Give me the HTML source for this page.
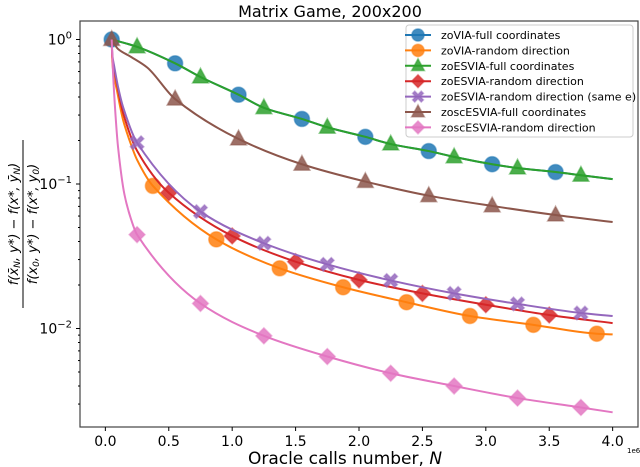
<!DOCTYPE html>
<html><head><meta charset="utf-8"><style>
body{margin:0;background:#fff}
svg{display:block;font-family:"DejaVu Sans","Liberation Sans",sans-serif}
</style></head><body>
<svg id="chart" width="640" height="467" viewBox="0 0 640 467" xmlns="http://www.w3.org/2000/svg">
<text x="330" y="17" font-size="16" text-anchor="middle">Matrix Game, 200x200</text>
<g id="plot"></g>
<text x="345" y="464" font-size="17" text-anchor="middle">Oracle calls number, <tspan font-style="italic">N</tspan></text>
<text x="627" y="453" font-size="7">1e6</text>
<g transform="translate(22,224) rotate(-90)" font-size="13" text-anchor="middle" font-style="italic">
<text y="-4">f(x̄<tspan font-size="9" dy="2">N</tspan><tspan dy="-2">, y*) − f(x*, ȳ</tspan><tspan font-size="9" dy="2">N</tspan><tspan dy="-2">)</tspan></text>
<line x1="-84" x2="84" y1="1" y2="1" stroke="#000" stroke-width="1"/>
<text y="15">f(x<tspan font-size="9" dy="2">0</tspan><tspan dy="-2">, y*) − f(x*, y</tspan><tspan font-size="9" dy="2">0</tspan><tspan dy="-2">)</tspan></text>
</g>
</svg>
<script>
const xTicks=[0,0.5,1,1.5,2,2.5,3,3.5,4];
const xTickLabels=["0.0","0.5","1.0","1.5","2.0","2.5","3.0","3.5","4.0"];
const yTicks=[0,-1,-2];
const yTickLabels=["0","−1","−2"];
const seriesNames=["zoVIA-full coordinates","zoVIA-random direction","zoESVIA-full coordinates","zoESVIA-random direction","zoESVIA-random direction (same e)","zoscESVIA-full coordinates","zoscESVIA-random direction"];
const colors=["#1f77b4","#ff7f0e","#2ca02c","#d62728","#9467bd","#8c564b","#e377c2"];
const fullN=[0.05,0.25,0.55,0.75,1.05,1.25,1.55,1.75,2.05,2.25,2.55,2.75,3.05,3.25,3.55,3.75,4.0];
const fullV=[1.0,0.89,0.684,0.55,0.415,0.337,0.282,0.247,0.212,0.189,0.169,0.154,0.137,0.129,0.121,0.115,0.108];
const brownN=[0.05,0.1,0.2,0.33,0.55,1.05,1.55,2.05,2.55,3.05,3.55,4.0];
const brownV=[1.0,0.86,0.76,0.64,0.387,0.205,0.137,0.104,0.083,0.0705,0.061,0.0546];
const orangeN=[0.05,0.055,0.065,0.09,0.14,0.2,0.25,0.375,0.875,1.375,1.875,2.375,2.875,3.375,3.875,4.0];
const orangeV=[1.0,0.7,0.58,0.45,0.277,0.19,0.147,0.097,0.0414,0.0261,0.0193,0.0152,0.0122,0.0106,0.0092,0.0091];
const redN=[0.05,0.055,0.07,0.1,0.14,0.25,0.5,1.0,1.5,2.0,2.5,3.0,3.5,4.0];
const redV=[1.0,0.75,0.62,0.45,0.31,0.17,0.087,0.0437,0.029,0.0217,0.0175,0.0146,0.0124,0.0109];
const purpleN=[0.05,0.055,0.07,0.1,0.14,0.25,0.75,1.25,1.75,2.25,2.75,3.25,3.75,4.0];
const purpleV=[1.0,0.78,0.65,0.47,0.34,0.193,0.0644,0.0389,0.0278,0.0215,0.0175,0.0148,0.0128,0.0122];
const pinkN=[0.05,0.06,0.08,0.1,0.15,0.2,0.25,0.75,1.25,1.75,2.25,2.75,3.25,3.75,4.0];
const pinkV=[1.0,0.6,0.3,0.18,0.085,0.058,0.0446,0.0149,0.0089,0.0064,0.0049,0.004,0.0033,0.00284,0.00263];
const markersBlue=[0.05,0.55,1.05,1.55,2.05,2.55,3.05,3.55];
const markersOrange=[0.375,0.875,1.375,1.875,2.375,2.875,3.375,3.875];
const markersGreen=[0.25,0.75,1.25,1.75,2.25,2.75,3.25,3.75];
const markersRed=[0.5,1.0,1.5,2.0,2.5,3.0,3.5];
const markersPurple=[0.25,0.75,1.25,1.75,2.25,2.75,3.25,3.75];
const markersBrown=[0.05,0.55,1.05,1.55,2.05,2.55,3.05,3.55];
const markersPink=[0.25,0.75,1.25,1.75,2.25,2.75,3.25,3.75];

const L=80,R=638,T=21,B=427;
const xMin=-0.2,xMax=4.2;
const y0px=39.5,decade=144.5;
const sx=n=>L+(n-xMin)/(xMax-xMin)*(R-L);
const sy=v=>y0px-Math.log10(v)*decade;
const NS="http://www.w3.org/2000/svg";
const plot=document.getElementById('plot');
function mk(tag,attrs,parent){const e=document.createElementNS(NS,tag);for(const k in attrs)e.setAttribute(k,attrs[k]);(parent||plot).appendChild(e);return e;}
function monoPath(xs,ys){
 const n=xs.length,d=[],m=[];
 for(let i=0;i<n-1;i++)d.push((ys[i+1]-ys[i])/(xs[i+1]-xs[i]));
 m[0]=d[0];m[n-1]=d[n-2];
 for(let i=1;i<n-1;i++){m[i]=(d[i-1]*d[i]<=0)?0:(2/(1/d[i-1]+1/d[i]));}
 let p='M'+xs[0].toFixed(2)+','+ys[0].toFixed(2);
 for(let i=0;i<n-1;i++){const h=xs[i+1]-xs[i];
  p+=' C'+(xs[i]+h/3).toFixed(2)+','+(ys[i]+m[i]*h/3).toFixed(2)+' '+(xs[i+1]-h/3).toFixed(2)+','+(ys[i+1]-m[i+1]*h/3).toFixed(2)+' '+xs[i+1].toFixed(2)+','+ys[i+1].toFixed(2);}
 return p;
}
function interpPx(xs,ys,x){
 // evaluate monotone cubic at x
 const n=xs.length,d=[],m=[];
 for(let i=0;i<n-1;i++)d.push((ys[i+1]-ys[i])/(xs[i+1]-xs[i]));
 m[0]=d[0];m[n-1]=d[n-2];
 for(let i=1;i<n-1;i++){m[i]=(d[i-1]*d[i]<=0)?0:(2/(1/d[i-1]+1/d[i]));}
 for(let i=0;i<n-1;i++){if(x>=xs[i]-1e-9&&x<=xs[i+1]+1e-9){const h=xs[i+1]-xs[i],t=(x-xs[i])/h;
  const h00=2*t*t*t-3*t*t+1,h10=t*t*t-2*t*t+t,h01=-2*t*t*t+3*t*t,h11=t*t*t-t*t;
  return h00*ys[i]+h10*h*m[i]+h01*ys[i+1]+h11*h*m[i+1];}}
 return ys[n-1];
}

const frame=mk('rect',{x:L,y:T,width:R-L,height:B-T,fill:'none',stroke:'#444','stroke-width':1.2});


xTicks.forEach((t,i)=>{
 const x=sx(t);
 const tk=mk('line',{x1:x,x2:x,y1:B,y2:B+4,stroke:'#000'});
 
 
 const lb=mk('text',{x:x,y:B+19,'font-size':14,'text-anchor':'middle'});
 lb.textContent=xTickLabels[i];
 
 
});
yTicks.forEach((e,i)=>{
 const y=sy(Math.pow(10,e));
 const tk=mk('line',{x1:L-4,x2:L,y1:y,y2:y,stroke:'#000'});
 
 
 const lb=mk('text',{x:L-8,y:y+5,'font-size':14,'text-anchor':'end'});
 lb.innerHTML='10<tspan dy="-6" font-size="10">'+yTickLabels[i]+'</tspan>';
 
 
});
[0.1,0.01,0.001].forEach(d=>{for(let k=2;k<=9;k++){const v=d*k;const y=sy(v);if(y>=T&&y<=B){const m=mk('line',{x1:L-2,x2:L,y1:y,y2:y,stroke:'#000'});
 
 }}});

const series=[
 {N:fullN,V:fullV,m:markersBlue,c:0,shape:'circle'},
 {N:orangeN,V:orangeV,m:markersOrange,c:1,shape:'circle'},
 {N:fullN,V:fullV,m:markersGreen,c:2,shape:'tri'},
 {N:redN,V:redV,m:markersRed,c:3,shape:'diamond'},
 {N:purpleN,V:purpleV,m:markersPurple,c:4,shape:'x'},
 {N:brownN,V:brownV,m:markersBrown,c:5,shape:'tri'},
 {N:pinkN,V:pinkV,m:markersPink,c:6,shape:'diamond'}
];
function marker(shape,x,y,col,parent,s){
 s=s||8;let e;
 if(shape==='circle')e=mk('circle',{cx:x,cy:y,r:s*0.95},parent);
 else if(shape==='tri')e=mk('polygon',{points:`${x},${y-s*1.1} ${x+s},${y+s*0.75} ${x-s},${y+s*0.75}`},parent);
 else if(shape==='diamond')e=mk('polygon',{points:`${x},${y-s} ${x+s},${y} ${x},${y+s} ${x-s},${y}`},parent);
 else {const a=s*0.85,w=s*0.35;
  e=mk('path',{d:`M${x-a},${y-a+w}L${x-a+w},${y-a}L${x},${y-w}L${x+a-w},${y-a}L${x+a},${y-a+w}L${x+w},${y}L${x+a},${y+a-w}L${x+a-w},${y+a}L${x},${y+w}L${x-a+w},${y+a}L${x-a},${y+a-w}L${x-w},${y}Z`},parent);}
 e.setAttribute('fill',col);e.setAttribute('fill-opacity','0.85');e.setAttribute('stroke',col);e.setAttribute('stroke-opacity','0.45');e.setAttribute('stroke-width','1.5');
 return e;
}
series.forEach((s,si)=>{
 const g=mk('g',{});
 
 
 const xs=s.N.map(sx),ys=s.V.map(sy);
 const pl=mk('path',{d:monoPath(xs,ys),fill:'none',stroke:colors[s.c],'stroke-width':2,'stroke-linejoin':'round'},g);
 
 
 s.m.forEach(n=>{const x=sx(n);const e=marker(s.shape,x,interpPx(xs,ys,x),colors[s.c],g);
  
  });
});
const lg=mk('g',{});


mk('rect',{x:406,y:25,width:227,height:112,rx:3,fill:'#fff','fill-opacity':0.85,stroke:'#ccc'},lg);
series.forEach((s,i)=>{
 const y=35+i*15.4;
 const row=mk('g',{},lg);
 
 
 mk('line',{x1:405,x2:431,y1:y,y2:y,stroke:colors[s.c],'stroke-width':2},row);
 marker(s.shape,418,y,colors[s.c],row,6.5);
 const t=mk('text',{x:441,y:y+4,'font-size':11},row);
 t.textContent=seriesNames[i];
});
</script>
</body></html>
